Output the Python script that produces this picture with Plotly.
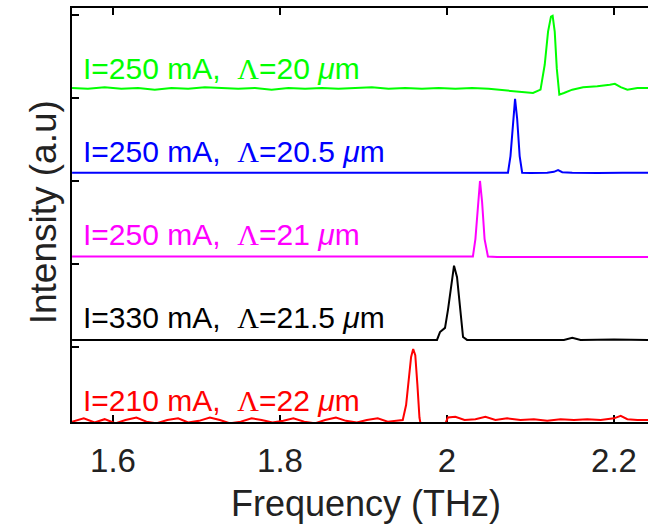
import plotly.graph_objects as go

# Normalised THz emission spectra, stacked by one unit each.
green_f = [1.551, 1.57, 1.59, 1.61, 1.63, 1.65, 1.67, 1.69, 1.71, 1.73, 1.75, 1.77,
           1.79, 1.81, 1.83, 1.85, 1.87, 1.89, 1.91, 1.93, 1.95, 1.97, 1.99, 2.01,
           2.03, 2.05, 2.07, 2.09, 2.103, 2.112, 2.117, 2.121, 2.1245, 2.1265, 2.129,
           2.1315, 2.1345, 2.140, 2.150, 2.163, 2.180, 2.195, 2.201, 2.208, 2.216,
           2.228, 2.241]
green_v = [0.12, 0.11, 0.13, 0.11, 0.12, 0.10, 0.12, 0.11, 0.13, 0.12, 0.11, 0.12,
           0.10, 0.12, 0.11, 0.12, 0.11, 0.12, 0.13, 0.11, 0.12, 0.11, 0.12, 0.11,
           0.12, 0.11, 0.09, 0.07, 0.06, 0.10, 0.40, 0.80, 0.98, 0.99, 0.80, 0.35,
           0.04, 0.06, 0.10, 0.13, 0.14, 0.16, 0.17, 0.13, 0.10, 0.12, 0.12]

blue_f = [1.551, 1.60, 1.65, 1.70, 1.75, 1.80, 1.85, 1.90, 1.95, 2.00, 2.03, 2.06,
          2.073, 2.076, 2.079, 2.0815, 2.084, 2.087, 2.090, 2.10, 2.12, 2.128, 2.133,
          2.138, 2.15, 2.18, 2.21, 2.241]
blue_v = [0.10, 0.10, 0.095, 0.10, 0.095, 0.10, 0.10, 0.095, 0.10, 0.10, 0.095, 0.10,
          0.10, 0.30, 0.75, 0.99, 0.75, 0.30, 0.10, 0.095, 0.10, 0.11, 0.13, 0.105,
          0.10, 0.095, 0.10, 0.10]

magenta_f = [1.551, 1.60, 1.65, 1.70, 1.75, 1.80, 1.85, 1.90, 1.95, 2.00, 2.02,
             2.031, 2.034, 2.037, 2.0395, 2.042, 2.045, 2.049, 2.06, 2.10, 2.15,
             2.20, 2.241]
magenta_v = [0.09, 0.09, 0.095, 0.09, 0.09, 0.095, 0.09, 0.09, 0.095, 0.09, 0.09,
             0.09, 0.30, 0.75, 1.00, 0.75, 0.30, 0.09, 0.085, 0.085, 0.085, 0.09,
             0.085]

black_f = [1.551, 1.60, 1.65, 1.70, 1.75, 1.80, 1.85, 1.90, 1.95, 1.975, 1.988,
           1.9916, 1.9976, 2.0012, 2.0048, 2.0084, 2.012, 2.0156, 2.0192, 2.024,
           2.06, 2.10, 2.14, 2.150, 2.16, 2.20, 2.241]
black_v = [0.085, 0.085, 0.09, 0.085, 0.085, 0.09, 0.085, 0.085, 0.09, 0.085, 0.085,
           0.18, 0.23, 0.45, 0.75, 0.98, 0.84, 0.45, 0.12, 0.085, 0.085, 0.09, 0.085,
           0.11, 0.085, 0.09, 0.085]

red_f = [1.551, 1.565, 1.578, 1.590, 1.603, 1.615, 1.628, 1.640, 1.652, 1.665, 1.678,
         1.690, 1.703, 1.716, 1.728, 1.740, 1.753, 1.766, 1.778, 1.791, 1.804, 1.816,
         1.829, 1.842, 1.854, 1.867, 1.879, 1.892, 1.904, 1.917, 1.929, 1.940, 1.947,
         1.951, 1.954, 1.957, 1.9595, 1.962, 1.9645, 1.967, 1.969, 1.980, 1.990,
         1.997, 2.001, 2.010, 2.021, 2.034, 2.046, 2.058, 2.072, 2.088, 2.104, 2.120,
         2.136, 2.152, 2.168, 2.184, 2.200, 2.208, 2.216, 2.228, 2.241]
red_v = [0.10, 0.14, 0.09, 0.13, 0.08, 0.12, 0.15, 0.10, 0.08, 0.12, 0.14, 0.09, 0.11,
         0.15, 0.12, 0.08, 0.10, 0.14, 0.12, 0.09, 0.11, 0.14, 0.10, 0.08, 0.12, 0.15,
         0.11, 0.09, 0.12, 0.14, 0.10, 0.11, 0.12, 0.30, 0.60, 0.88, 0.976, 0.90, 0.55,
         0.15, 0.04, 0.03, 0.03, 0.05, 0.15, 0.16, 0.12, 0.13, 0.16, 0.12, 0.14, 0.12,
         0.13, 0.11, 0.13, 0.12, 0.13, 0.12, 0.14, 0.17, 0.13, 0.12, 0.12]

offsets = [0, 1, 2, 3, 4]
colors = ["#ff0000", "#000000", "#ff00ff", "#0000ff", "#00ff00"]
LAM = "<span style='font-family:Liberation Serif'>Λ</span>"
labels = [
    "I=210 mA,\u00a0 " + LAM + "=22 <i>μ</i>m",
    "I=330 mA,\u00a0 " + LAM + "=21.5 <i>μ</i>m",
    "I=250 mA,\u00a0 " + LAM + "=21 <i>μ</i>m",
    "I=250 mA,\u00a0 " + LAM + "=20.5 <i>μ</i>m",
    "I=250 mA,\u00a0 " + LAM + "=20 <i>μ</i>m",
]
series = [(red_f, red_v), (black_f, black_v), (magenta_f, magenta_v),
          (blue_f, blue_v), (green_f, green_v)]

x_ticks = [1.6, 1.8, 2.0, 2.2]
x_ticktext = ["1.6", "1.8", "2", "2.2"]
y_ticks = [1, 2, 3, 4, 5]

FONT = "Liberation Sans, Arial, sans-serif"

fig = go.Figure()
for (f, v), off, col in zip(series, offsets, colors):
    fig.add_trace(go.Scatter(
        x=f, y=[val + off for val in v], mode="lines",
        line=dict(color=col, width=2), showlegend=False, hoverinfo="skip"))

# invisible trace so the top (mirror) axis is drawn
fig.add_trace(go.Scatter(x=[2.0], y=[2.5], xaxis="x2", mode="markers",
                         marker=dict(opacity=0), showlegend=False, hoverinfo="skip"))

annotations = []
for lab, off, col in zip(labels, offsets, colors):
    annotations.append(dict(
        x=1.562, y=off + 0.36, xref="x", yref="y", text=lab, showarrow=False,
        xanchor="left", yanchor="middle", font=dict(family=FONT, size=30, color=col)))

annotations.append(dict(
    x=0.51, y=-0.2512, xref="paper", yref="paper", text="Frequency (THz)",
    showarrow=False, xanchor="center", yanchor="bottom",
    font=dict(family=FONT, size=36, color="#222222")))
annotations.append(dict(
    x=-0.05, y=0.507, xref="paper", yref="paper", text="Intensity (a.u)",
    showarrow=False, xanchor="center", yanchor="middle", textangle=-90,
    font=dict(family=FONT, size=37, color="#222222")))

fig.update_layout(
    width=648, height=526,
    margin=dict(l=72, r=0, t=8, b=104),
    paper_bgcolor="white", plot_bgcolor="white",
    xaxis=dict(range=[1.5509, 2.2407], tickvals=x_ticks, ticktext=x_ticktext,
               ticks="inside", ticklen=7, tickwidth=1.5, tickcolor="black",
               showline=True, linecolor="black", linewidth=2, showgrid=False,
               zeroline=False, layer="below traces", ticklabelstandoff=8,
               tickfont=dict(family=FONT, size=33, color="#222222")),
    xaxis2=dict(range=[1.5509, 2.2407], overlaying="x", side="top",
                tickvals=x_ticks, showticklabels=False, ticks="inside",
                ticklen=7, tickwidth=1.5, tickcolor="black", showline=True,
                linecolor="black", linewidth=2, showgrid=False, zeroline=False),
    yaxis=dict(range=[0.096, 5.084], tickvals=y_ticks, showticklabels=False,
               ticks="inside", ticklen=7, tickwidth=1.5, tickcolor="black",
               showline=True, linecolor="black", linewidth=2, showgrid=False,
               zeroline=False),
    annotations=annotations,
)

fig.write_html("out.html")
